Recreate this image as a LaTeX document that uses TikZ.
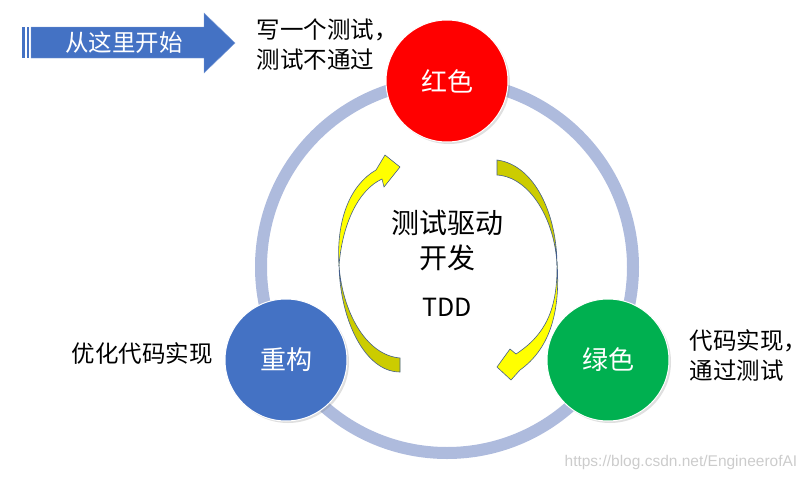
\documentclass[tikz,border=0pt]{standalone}
\usepackage{fontspec}
\setmainfont{Noto Sans CJK SC}
\newfontfamily\urlfont{Liberation Sans}
\usetikzlibrary{shadows}
\definecolor{ringblue}{RGB}{174,187,221}
\definecolor{tddred}{RGB}{255,0,0}
\definecolor{tddgreen}{RGB}{0,176,80}
\definecolor{tddblue}{RGB}{68,114,196}
\definecolor{arrowyellow}{RGB}{255,255,0}
\definecolor{arrowolive}{RGB}{204,204,0}
\definecolor{arrowedge}{RGB}{68,94,140}
\tikzset{every path/.style={semithick},
  phase/.style={circle,minimum size=122pt,inner sep=0pt,draw=white,line width=1pt,text=white,
    font=\fontsize{26}{30}\selectfont,drop shadow={opacity=0.25,shadow xshift=2pt,shadow yshift=-2pt}},
  note/.style={align=left,anchor=west,font=\fontsize{23.5}{30}\selectfont},
  yface/.style={fill=arrowyellow,draw=arrowedge,line width=0.6pt},
  oface/.style={fill=arrowolive,draw=arrowedge,line width=0.6pt}}

\begin{document}
\begin{tikzpicture}[x=1pt,y=-1pt]
    \useasboundingbox (0,0) rectangle (807,480);
    % the cycle
    \coordinate (hub) at (447,267);
    \draw[ringblue,line width=12pt] (hub) circle (186pt);

    % where to begin
    \fill[tddblue] (22,27) rectangle (25,58);
    \fill[tddblue] (27,27) rectangle (29,58);
    \draw[fill=tddblue,draw=tddblue!70!white,thin] (31,27) -- (204,27) -- (204,13) -- (235,43) -- (204,73) -- (204,58) -- (31,58) -- cycle;
    \node[text=white,font=\fontsize{23.5}{26}\selectfont] (start) at (124,43) {从这里开始};

    % the three phases
    \node[phase,fill=tddred] (red) at (447,81) {红色};
    \node[phase,fill=tddgreen] (green) at (608,360) {绿色};
    \node[phase,fill=tddblue] (refactor) at (286,360) {重构};

    \node[note] (rednote) at (253,45) {写一个测试，\\测试不通过};
    \node[note] (greennote) at (686,355) {代码实现，\\通过测试};
    \node[note] (refactornote) at (68,354) {优化代码实现};

    % curved arrows
    \draw[oface] (497,160) .. controls (535,165) and (557,215) .. (557,265) .. controls (555,220) and (530,177) .. (497,175) -- cycle;
    \draw[yface] (557,262) .. controls (558,310) and (545,335) .. (516,354) -- (510,349) -- (497,367) -- (511,380) -- (520,370) .. controls (548,350) and (561,315) .. (557,262) -- cycle;
    \draw[oface] (400,358) -- (400,372) .. controls (365,372) and (340,320) .. (339,265) .. controls (342,310) and (365,355) .. (400,358) -- cycle;
    \draw[yface] (339,266) .. controls (336,220) and (350,185) .. (376,170) -- (385,155) -- (400,167) -- (384,187) -- (382,179) .. controls (358,190) and (342,225) .. (339,266) -- cycle;

    % centre
    \node[align=center,font=\fontsize{28}{35}\selectfont] (title) at (447,240) {测试驱动\\开发};
    \node[font=\fontsize{25}{28}\selectfont] (tdd) at (447,307) {TDD};

    \node[anchor=west,text=black!20,font=\urlfont\fontsize{15.5}{17}\selectfont] (url) at (561,462) {https://blog.csdn.net/EngineerofAI};
\end{tikzpicture}
\end{document}
